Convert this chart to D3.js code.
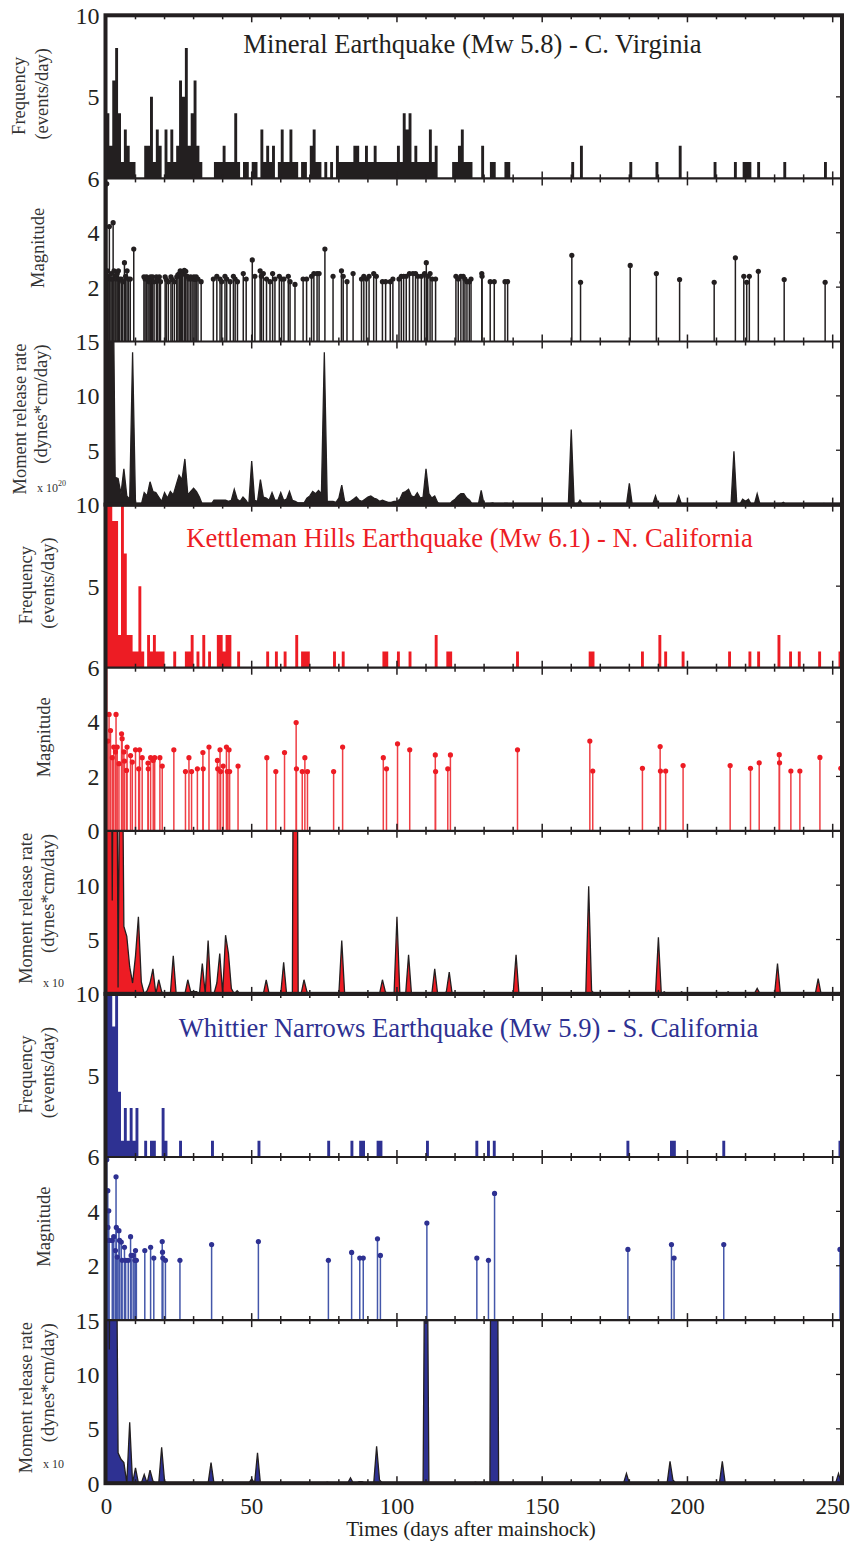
<!DOCTYPE html>
<html>
<head>
<meta charset="utf-8">
<script src="https://cdn.jsdelivr.net/npm/d3@7/dist/d3.min.js"></script>
<style>
  body { margin: 0; background: #fff; }
  svg { display: block; }
  text { font-family: "Liberation Serif", "Times New Roman", serif; fill: #231f20; }
</style>
</head>
<body>
<svg id="chart" width="851" height="1543"></svg>
<script>
// ---------------------------------------------------------------------------
// Aftershock sequences: daily event counts, event magnitudes and daily
// seismic moment release for three moderate earthquakes.
// ---------------------------------------------------------------------------

const xTickValues = [0, 50, 100, 150, 200, 250];
const freqTicks = [5, 10];
const magTicks = [2, 4, 6];
const momentTicks = [5, 10, 15];
const kettlemanMagTicks = [0, 2, 4, 6];
const kettlemanMomentTicks = [5, 10];
const whittierMomentTicks = [0, 5, 10, 15];

const titles = [
  "Mineral Earthquake (Mw 5.8) - C. Virginia",
  "Kettleman Hills Earthquake (Mw 6.1) - N. California",
  "Whittier Narrows Earthquake (Mw 5.9) - S. California"
];

// Mineral: [day, events per day]
const mineralFreq = [
  [0,4],[1,2],[2,6],[3,8],[4,4],[5,1],[6,3],[7,2],[8,1],[9,1],
  [13,2],[14,2],[15,5],[16,1],[17,3],[18,2],[20,3],[21,1],[22,3],[23,1],[24,2],[25,6],[26,5],[27,8],[28,2],[29,4],[30,6],[31,2],[32,1],
  [37,1],[38,1],[39,1],[40,2],[41,1],[42,1],[43,1],[44,4],[45,1],[47,1],[48,1],[50,1],[51,1],[53,3],[54,1],[55,2],[56,1],[57,2],[59,1],[60,3],[61,1],[62,1],[63,3],[64,1],[65,1],
  [67,1],[68,1],[70,2],[71,3],[72,1],[73,1],[75,1],[77,1],[79,2],[80,1],[81,1],[82,1],[83,1],[84,1],[85,2],[86,2],[87,1],[88,1],[89,2],[90,1],[91,1],[92,2],[93,1],[94,1],[95,1],[96,1],[97,1],[98,1],[99,1],[100,2],[101,1],
  [102,4],[103,3],[104,4],[105,1],[106,2],[107,1],[108,1],[109,1],[110,1],[111,3],[112,1],[113,2],
  [119,1],[120,1],[121,2],[122,3],[123,1],[124,1],[125,1],[129,2],[132,1],[133,1],[137,1],[138,1],
  [160,1],[163,2],[180,1],[189,1],[197,2],[209,1],[216,1],[219,1],[220,1],[221,1],[224,1],[233,1],[247,1]
];

// Mineral: [day, magnitude]
const mineralMag = [
  [0.1,5.8],[0.3,2.6],[0.6,2.4],[1.0,4.23],[1.2,2.3],[1.6,2.5],[2.0,2.3],[2.3,4.37],[2.6,2.6],[3.0,2.4],[3.3,2.3],[3.7,2.5],[4.1,2.6],[4.5,2.3],[5.1,2.3],[5.6,2.2],[6.2,2.9],[6.6,2.4],[7.1,2.6],[7.6,2.3],[8.2,2.3],[9.4,3.4],
  [12.9,2.38],[13.3,2.3],[13.8,2.38],[14.3,2.3],[14.7,2.2],[15.2,2.38],[15.5,2.3],[15.9,2.38],[16.4,2.2],[17.2,2.38],[17.6,2.28],[18.2,2.38],[18.6,2.2],[20.2,2.38],[20.6,2.28],[21.3,2.2],[22.2,2.38],[22.7,2.28],[23.4,2.2],[24.2,2.38],[24.6,2.45],[25.1,2.5],[25.4,2.6],[25.8,2.45],[26.2,2.5],[26.8,2.62],[27.3,2.58],[27.8,2.4],[28.4,2.3],[29.0,2.38],[29.5,2.3],[30.1,2.38],[30.5,2.28],[30.9,2.38],[31.5,2.3],[32.6,2.2],
  [36.8,2.3],[38.0,2.4],[39.1,2.3],[39.7,2.2],[40.8,2.4],[41.4,2.3],[42.6,2.2],[43.7,2.4],[44.3,2.3],[45.1,2.2],[47.1,2.5],[48.1,2.3],[50.2,3.0],[51.1,2.4],[52.9,2.6],[53.3,2.4],[54.0,2.5],[55.1,2.3],[56.3,2.2],[57.2,2.5],[58.0,2.3],[59.5,2.4],[60.3,2.3],[61.1,2.3],[62.6,2.4],[63.2,2.2],[64.9,2.1],[67.7,2.3],[68.9,2.3],[70.6,2.4],[71.4,2.5],[72.5,2.5],[73.2,2.5],[75.2,3.4],
  [78.0,2.4],[80.9,2.6],[81.5,2.4],[82.8,2.2],[84.9,2.5],[87.8,2.3],[88.6,2.4],[89.5,2.3],[90.4,2.4],[92.0,2.5],[92.9,2.4],[95.0,2.2],[96.1,2.2],[97.7,2.2],[98.6,2.3],[100.7,2.3],[101.5,2.4],[102.3,2.4],[103.2,2.4],[104.3,2.5],[105.5,2.5],[106.4,2.5],[107.2,2.4],[108.4,2.4],[109.5,2.5],[110.1,2.9],[110.6,2.4],[111.4,2.5],[112.1,2.3],[113.3,2.3],
  [120.3,2.4],[121.1,2.3],[122.0,2.4],[122.8,2.4],[123.4,2.3],[124.1,2.2],[124.9,2.2],[125.5,2.3],[129.2,2.5],[129.3,2.4],[132.1,2.2],[133.5,2.2],[137.2,2.2],[138.1,2.2],
  [160.2,3.17],[163.2,2.18],[180.3,2.8],[189.3,2.5],[197.3,2.28],[209.2,2.18],[216.5,3.08],[219.4,2.4],[220.4,2.18],[221.3,2.4],[224.4,2.58],[233.3,2.28],[247.4,2.18],[253.2,2.18]
];

// Mineral: [day, moment release rate, 1e20 dyne-cm/day]; unlisted days are zero
const mineralMoment = [
  [0,60],[1,40],[2,30],[3,2.5],[4,2.4],[5,1.0],[6,3.3],[7,0.8],[8,0.5],[9,14.0],
  [13,1.1],[14,0.8],[15,2.1],[16,1.2],[17,1.1],[18,0.7],[19,0.3],[20,1.1],[21,0.6],[22,1.2],[23,0.9],[24,1.8],[25,2.7],[26,2.3],[27,4.2],[28,0.9],[29,1.2],[30,1.5],[31,1.2],[32,0.7],
  [37,0.4],[38,0.4],[39,0.4],[40,0.4],[41,0.4],[42,0.3],[43,0.4],[44,1.4],[45,0.5],[46,0.3],[47,0.7],[48,0.4],[50,4.0],[51,0.4],[52,0.3],[53,2.3],[54,0.7],[55,0.6],[56,0.4],[57,1.1],[58,0.4],[59,0.4],[60,1.1],[61,0.4],[62,0.5],[63,1.2],[64,0.4],[65,0.3],[66,0.15],[67,0.15],[68,0.15],
  [69,0.6],[70,0.8],[71,1.2],[72,1.0],[73,1.3],[74,1.0],[75,14.0],[76,0.3],[77,0.3],[78,0.3],[79,0.2],[80,0.6],[81,1.8],[82,0.3],[83,0.2],[84,0.3],[85,0.5],[86,0.7],[87,0.4],[88,0.3],[89,0.5],[90,0.7],[91,0.8],[92,0.6],[93,0.5],[94,0.3],[95,0.4],[96,0.3],[97,0.2],[98,0.2],[99,0.3],[100,0.3],
  [101,0.5],[102,1.1],[103,1.2],[104,1.4],[105,0.8],[106,0.7],[107,1.1],[108,0.6],[109,0.7],[110,3.3],[111,1.0],[112,0.6],[113,0.8],[114,0.2],
  [119,0.3],[120,0.5],[121,0.8],[122,1.0],[123,1.0],[124,0.6],[125,0.4],[129,1.3],[132,0.1],[133,0.15],[137,0.1],[138,0.1],
  [160,6.9],[163,0.4],[180,1.95],[189,0.8],[197,0.8],[209,0.1],[216,4.9],[219,0.5],[220,0.3],[221,0.5],[224,1.0],[233,0.2],[247,0.1]
];

// Kettleman Hills
const kettlemanFreq = [
  [0,12],[1,12],[2,9],[3,9],[4,2],[5,10],[6,7],[7,2],[8,2],[9,1],[10,1],[11,5],[12,1],
  [14,2],[15,1],[16,2],[17,1],[18,1],[19,1],[23,1],[27,1],[28,1],[29,2],[31,1],[33,2],[35,1],[38,2],[39,2],[40,1],[41,2],[42,2],[45,1],
  [55,1],[58,1],[61,1],[65,2],[67,1],[68,1],[69,1],[78,1],[81,1],[95,1],[96,1],[100,1],[104,1],[113,2],[117,1],[118,1],
  [141,1],[166,1],[167,1],[184,1],[190,2],[192,1],[198,1],[214,1],[221,1],[224,1],[231,2],[235,1],[238,1],[245,1],[252,1]
];

const kettlemanMag = [
  [0.1,6.1],[0.5,3.3],[0.9,4.28],[1.4,3.69],[2.0,2.69],[2.5,3.08],[3.1,2.9],[3.3,4.28],[3.7,3.08],[4.3,2.47],[5.2,3.57],[5.4,3.39],[6.0,2.9],[6.2,2.56],[6.9,2.22],[7.1,3.08],[8.3,2.77],[8.9,2.53],
  [10.0,2.98],[11.1,2.28],[11.4,2.98],[12.3,2.69],[14.3,2.49],[14.4,2.28],[15.2,2.69],[16.1,2.59],[16.6,2.69],[18.4,2.69],[19.2,2.38],
  [23.2,2.98],[27.2,2.18],[28.4,2.69],[29.3,2.18],[31.3,2.28],[33.2,2.88],[33.3,2.28],[35.3,3.08],[38.2,2.59],[38.3,2.28],[39.1,2.98],[39.3,2.18],[40.2,2.38],[41.3,3.08],[41.6,2.18],[42.2,2.98],[42.4,2.18],[45.3,2.38],
  [55.2,2.69],[58.3,2.18],[61.3,2.88],[65.3,3.98],[65.4,2.28],[67.4,2.18],[68.3,2.69],[69.2,2.18],[78.2,2.18],[81.3,3.08],[95.3,2.69],[96.4,2.28],[100.2,3.2],[104.4,2.98],[113.2,2.79],[113.3,2.18],[117.5,2.28],[118.4,2.79],
  [141.5,2.98],[166.4,3.3],[167.4,2.2],[184.5,2.3],[190.6,3.1],[190.7,2.2],[192.5,2.2],[198.5,2.4],[214.7,2.4],[221.7,2.3],[224.7,2.5],[231.6,2.8],[231.7,2.5],[235.6,2.2],[238.7,2.2],[245.6,2.7],[252.8,2.3]
];

const kettlemanMoment = [
  [0,80],[1,60],[2,8.6],[3,60],[4,0.6],[5,40],[6,6.2],[7,5.3],[8,2.5],[9,1.0],[10,3.5],[11,7.1],[12,1.1],
  [14,0.3],[15,1.0],[16,2.3],[18,1.3],[19,0.2],[23,3.5],[28,1.3],[29,0.2],[30,0.2],[31,0.2],[33,2.8],[35,4.9],[38,1.0],[39,3.7],[41,5.4],[42,3.7],[43,0.5],[45,0.3],
  [55,1.3],[58,0.1],[61,2.9],[65,80],[68,1.3],[69,0.2],[78,0.1],[81,4.9],[95,1.3],[96,0.2],[100,7.1],[104,3.6],[113,2.3],[117,0.2],[118,2.0],
  [141,3.6],[166,9.9],[167,0.3],[184,0.1],[190,5.2],[192,0.2],[198,0.2],[214,0.2],[221,0.1],[224,0.5],[231,2.8],[235,0.1],[238,0.1],[245,1.4],[252,0.1]
];

// Whittier Narrows
const whittierFreq = [
  [0,12],[1,12],[2,8],[3,12],[4,4],[5,1],[6,3],[7,1],[8,3],[9,1],[10,3],
  [13,1],[15,1],[16,1],[19,3],[20,1],[25,1],[36,1],[52,1],[76,1],[84,1],[87,1],[88,1],[93,1],[94,1],[110,1],[127,1],[131,1],[133,1],
  [179,1],[194,1],[195,1],[212,1],[252,1]
];

const whittierMag = [
  [0.1,5.9],[0.46,4.76],[0.5,3.41],[0.8,4.02],[0.9,2.93],[2.0,2.93],[2.5,3.07],[3.1,2.56],[3.3,5.27],[3.4,3.41],[3.7,2.32],[4.3,3.29],[4.5,2.93],[5.1,2.87],[5.4,2.2],[6.2,2.68],[6.6,2.2],[7.5,2.2],[8.3,3.07],[8.5,2.38],[9.2,2.38],[9.8,2.2],[10.0,2.56],[10.3,2.2],
  [13.2,2.56],[15.2,2.68],[16.3,2.28],[19.2,2.89],[19.3,2.5],[19.4,2.28],[20.3,2.2],[25.3,2.2],[36.2,2.78],[52.3,2.89],[76.4,2.2],[84.4,2.49],[87.2,2.28],[88.4,2.28],[93.3,2.99],[94.3,2.38],[110.3,3.57],[127.5,2.28],[131.5,2.2],[133.6,4.66],
  [179.5,2.6],[194.5,2.78],[195.4,2.28],[212.5,2.78],[252.5,2.6]
];

const whittierMoment = [
  [0,60],[1,12.3],[2,60],[3,40],[4,2.8],[5,2.2],[6,1.9],[8,5.6],[10,1.4],[13,0.8],[15,1.2],[16,0.2],[19,3.3],[20,0.2],
  [36,1.9],[50,0.4],[52,2.8],[76,0.1],[84,0.5],[87,0.15],[88,0.15],[93,3.4],[94,0.3],[110,40],[127,0.1],[131,0.1],[133,80],[134,60],
  [179,0.9],[194,2.0],[195,0.3],[212,2.0],[252,0.9]
];

// ---------------------------------------------------------------------------
// Layout and styling
// ---------------------------------------------------------------------------
const INK = "#231f20";
const RED = "#ed1c24";
const BLUE = "#2e3192";

const TOP = 15.3;
const PANEL_H = 163.1;
const PLOT_LEFT = 105.5;
const PLOT_RIGHT = 842;
const LAST_DAY = 253;

const sections = [
  {
    title: titles[0], titleColor: INK, titleX: 472.5, titleY: 52.5,
    barColor: INK, stemColor: INK, dotColor: INK, areaFill: INK, areaStroke: INK,
    freq: mineralFreq, mag: mineralMag, moment: mineralMoment,
    freqLabels: freqTicks, magLabels: magTicks, momentLabels: momentTicks,
    labelX: [18.5, 41.5, 37.5, 20, 41], expX: 37, expY: 491.5, expPower: "20"
  },
  {
    title: titles[1], titleColor: RED, titleX: 469.5, titleY: 546.5,
    barColor: RED, stemColor: "#ef3e44", dotColor: RED, areaFill: RED, areaStroke: INK,
    freq: kettlemanFreq, mag: kettlemanMag, moment: kettlemanMoment,
    freqLabels: freqTicks, magLabels: kettlemanMagTicks, momentLabels: kettlemanMomentTicks,
    labelX: [25.5, 48, 44, 25.5, 48], expX: 43, expY: 987, expPower: ""
  },
  {
    title: titles[2], titleColor: BLUE, titleX: 468.5, titleY: 1036.5,
    barColor: BLUE, stemColor: "#4457aa", dotColor: BLUE, areaFill: BLUE, areaStroke: INK,
    freq: whittierFreq, mag: whittierMag, moment: whittierMoment,
    freqLabels: freqTicks, magLabels: magTicks, momentLabels: whittierMomentTicks,
    labelX: [25.5, 48, 44, 26, 48], expX: 43, expY: 1468, expPower: ""
  }
];

const svg = d3.select("#chart");
const x = d3.scaleLinear().domain([0, 250]).range([106.45, 832.7]);

const panelTop = (s, p) => TOP + (s * 3 + p) * PANEL_H;

// clip rectangles, one per panel
const defs = svg.append("defs");
for (let s = 0; s < 3; s++) {
  for (let p = 0; p < 3; p++) {
    defs.append("clipPath").attr("id", `clip-${s}-${p}`)
      .append("rect")
      .attr("x", PLOT_LEFT).attr("y", panelTop(s, p))
      .attr("width", PLOT_RIGHT - PLOT_LEFT).attr("height", PANEL_H);
  }
}

const marks = svg.append("g");
const frames = svg.append("g");
const labels = svg.append("g");

sections.forEach((sec, s) => {
  const t0 = panelTop(s, 0), t1 = panelTop(s, 1), t2 = panelTop(s, 2), t3 = panelTop(s, 3);

  const yFreq = d3.scaleLinear().domain([0, 10]).range([t1, t0]);
  const yMag = d3.scaleLinear().domain([0, 6]).range([t2, t1]);
  const yMom = d3.scaleLinear().domain([0, 15]).range([t3, t2]);

  // --- frequency histogram (1-day bins), one path so adjacent bins merge cleanly
  const bars = d3.path();
  sec.freq.forEach(([day, n]) => {
    bars.rect(x(day), yFreq(n), x(day + 1) - x(day), yFreq(0) - yFreq(n));
  });
  marks.append("g").attr("clip-path", `url(#clip-${s}-0)`)
    .append("path").attr("d", bars.toString()).attr("fill", sec.barColor);

  // --- magnitude stems
  const gm = marks.append("g").attr("clip-path", `url(#clip-${s}-1)`);
  gm.selectAll("line").data(sec.mag).join("line")
    .attr("x1", d => x(d[0])).attr("x2", d => x(d[0]))
    .attr("y1", yMag(0)).attr("y2", d => yMag(d[1]))
    .attr("stroke", sec.stemColor).attr("stroke-width", 1.5);
  gm.selectAll("circle").data(sec.mag).join("circle")
    .attr("cx", d => x(d[0])).attr("cy", d => yMag(d[1]))
    .attr("r", 2.6).attr("fill", sec.dotColor);

  // --- moment release rate, daily series
  const byDay = new Map(sec.moment);
  const daily = d3.range(0, LAST_DAY + 1).map(d => [d, byDay.get(d) || 0]);
  const area = d3.area().x(d => x(d[0])).y0(yMom(0)).y1(d => yMom(d[1]));
  const line = d3.line().x(d => x(d[0])).y(d => yMom(d[1]));
  const ga = marks.append("g").attr("clip-path", `url(#clip-${s}-2)`);
  ga.append("path").datum(daily).attr("d", area).attr("fill", sec.areaFill);
  ga.append("path").datum(daily).attr("d", line)
    .attr("fill", "none").attr("stroke", sec.areaStroke).attr("stroke-width", 1.3)
    .attr("stroke-linejoin", "miter");

  // --- x ticks on every panel edge, pointing inward
  const ticks = d3.range(10, 251, 10);
  [t0, t1, t2, t3].forEach((yy, k) => {
    ticks.forEach(v => {
      const len = v % 50 === 0 ? 7 : 4;
      const g = frames.append("g");
      if (k > 0) g.append("line").attr("x1", x(v)).attr("x2", x(v)).attr("y1", yy).attr("y2", yy - len);
      if (k < 3) g.append("line").attr("x1", x(v)).attr("x2", x(v)).attr("y1", yy).attr("y2", yy + len);
      g.selectAll("line").attr("stroke", INK).attr("stroke-width", 1.5);
    });
  });

  // --- right-side y ticks
  const rightTicks = [[yFreq, [5]], [yMag, [2, 4]], [yMom, [5, 10]]];
  rightTicks.forEach(([sc, vals]) => {
    vals.forEach(v => {
      frames.append("line")
        .attr("x1", PLOT_RIGHT).attr("x2", PLOT_RIGHT - 6)
        .attr("y1", sc(v)).attr("y2", sc(v))
        .attr("stroke", INK).attr("stroke-width", 1.3);
    });
  });

  // --- panel separators and section frame
  [t1, t2].forEach(yy => {
    frames.append("line").attr("x1", PLOT_LEFT).attr("x2", PLOT_RIGHT)
      .attr("y1", yy).attr("y2", yy).attr("stroke", INK).attr("stroke-width", 2.2);
  });
  frames.append("rect")
    .attr("x", PLOT_LEFT).attr("y", t0)
    .attr("width", PLOT_RIGHT - PLOT_LEFT).attr("height", t3 - t0)
    .attr("fill", "none").attr("stroke", INK).attr("stroke-width", 4);

  // --- y tick labels
  const tickLabel = (sc, vals) => vals.forEach(v => {
    labels.append("text").attr("x", 99.5).attr("y", sc(v)).attr("dy", "0.35em")
      .attr("text-anchor", "end").attr("font-size", 24).text(v);
  });
  tickLabel(yFreq, sec.freqLabels);
  tickLabel(yMag, sec.magLabels);
  tickLabel(yMom, sec.momentLabels);

  // --- axis titles (rotated)
  const vtext = (cx, cy, str) => labels.append("text")
    .attr("transform", `translate(${cx},${cy}) rotate(-90)`)
    .attr("dy", "0.35em").attr("text-anchor", "middle")
    .attr("font-size", 18.5).style("fill", "#333").text(str);
  const mid = (a, b) => (a + b) / 2;
  vtext(sec.labelX[0], mid(t0, t1) - 1, "Frequency");
  vtext(sec.labelX[1], mid(t0, t1) - 3, "(events/day)");
  vtext(sec.labelX[2], mid(t1, t2) - 12, "Magnitude");
  vtext(sec.labelX[3], mid(t2, t3) - 4, "Moment release rate");
  vtext(sec.labelX[4], mid(t2, t3) - 19, "(dynes*cm/day)");

  // --- scale multiplier
  const ex = labels.append("text").attr("x", sec.expX).attr("y", sec.expY)
    .attr("font-size", 12).style("fill", "#333");
  ex.append("tspan").text("x 10");
  if (sec.expPower) ex.append("tspan").attr("dy", -6).attr("font-size", 8).text(sec.expPower);

  // --- section title
  labels.append("text").attr("x", sec.titleX).attr("y", sec.titleY)
    .attr("text-anchor", "middle").attr("font-size", 26.6)
    .style("fill", sec.titleColor).text(sec.title);
});

// bottom axis labels
const bottom = panelTop(3, 0);
labels.selectAll(".xt").data(xTickValues).join("text")
  .attr("class", "xt")
  .attr("x", d => x(d)).attr("y", bottom + 31)
  .attr("text-anchor", "middle").attr("font-size", 23).text(d => d);
labels.append("text").attr("x", 471).attr("y", bottom + 52.5)
  .attr("text-anchor", "middle").attr("font-size", 21)
  .text("Times (days after mainshock)");
</script>
</body>
</html>
